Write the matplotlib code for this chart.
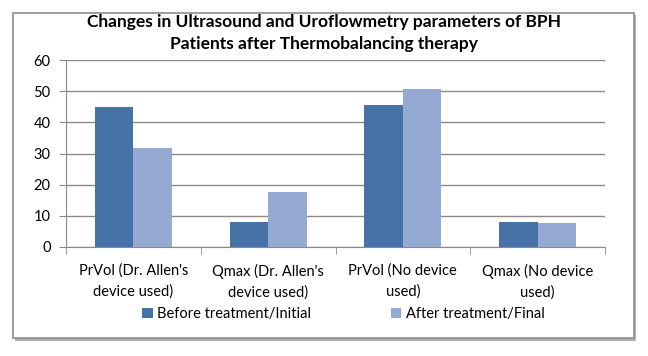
import numpy as np
import matplotlib
matplotlib.use('Agg')
import matplotlib.pyplot as plt
from matplotlib.patches import Rectangle

plt.rcParams['font.family'] = ['Lato', 'DejaVu Sans']

categories = ["PrVol (Dr. Allen's\ndevice used)", "Qmax (Dr. Allen's\ndevice used)",
              "PrVol (No device\nused)", "Qmax (No device\nused)"]
before = [45.0, 8.1, 45.5, 7.9]
after = [31.7, 17.6, 50.7, 7.6]
series_names = ["Before treatment/Initial", "After treatment/Final"]
yticks = [0, 10, 20, 30, 40, 50, 60]

col_dark = '#4672A8'
col_light = '#95AAD2'

fig = plt.figure(figsize=(6.48, 3.56), dpi=100)

# outer chart frame with a small shadow
W, H = 648, 356
shadow = Rectangle((15 / W, 1 - 341 / H), 621 / W, 326 / H, transform=fig.transFigure,
                   facecolor='#b0b0b0', edgecolor='none', zorder=-2)
frame = Rectangle((13 / W, 1 - 338 / H), 621 / W, 325 / H, transform=fig.transFigure,
                  facecolor='white', edgecolor='#8c8c8c', linewidth=1.2, zorder=-1)
fig.patches.extend([shadow, frame])

ax = fig.add_axes([66 / W, 1 - 247 / H, (605 - 66) / W, (247 - 60) / H])
ax.set_facecolor('none')
ax.set_zorder(2)

x = np.arange(len(categories))
w = 1 / 3.5
ax.bar(x - w / 2, before, w, color=col_dark, label=series_names[0], zorder=3)
ax.bar(x + w / 2, after, w, color=col_light, label=series_names[1], zorder=3)

ax.set_xlim(-0.5, len(categories) - 0.5)
ax.set_ylim(0, 60)
ax.set_yticks(yticks)
ax.yaxis.grid(True, color='#8a8a8a', linewidth=1)
ax.set_axisbelow(True)

ax.set_xticks(x)
ax.set_xticklabels(categories, fontsize=10.5, linespacing=1.6)
ax.tick_params(axis='x', length=0, pad=12)
ax.set_xticks(np.arange(-0.5, len(categories)), minor=True)
ax.tick_params(axis='x', which='minor', length=5, color='#8a8a8a', direction='out')
ax.tick_params(axis='y', length=5, color='#8a8a8a', labelsize=10.5, pad=6)

for s in ['top', 'right']:
    ax.spines[s].set_visible(False)
for s in ['left', 'bottom']:
    ax.spines[s].set_color('#8a8a8a')

fig.text(0.5, 1 - 14 / H,
         "Changes in Ultrasound and Uroflowmetry parameters of BPH\nPatients after Thermobalancing therapy",
         ha='center', va='top', fontsize=12.5, fontweight='bold', linespacing=1.45)

fig.legend(loc='center', bbox_to_anchor=(0.53, 1 - 314 / H), ncol=2, frameon=False,
           fontsize=10.5, handlelength=0.7, handleheight=0.7, handletextpad=0.3,
           columnspacing=5.5)

fig.savefig('out.png', dpi=100)
